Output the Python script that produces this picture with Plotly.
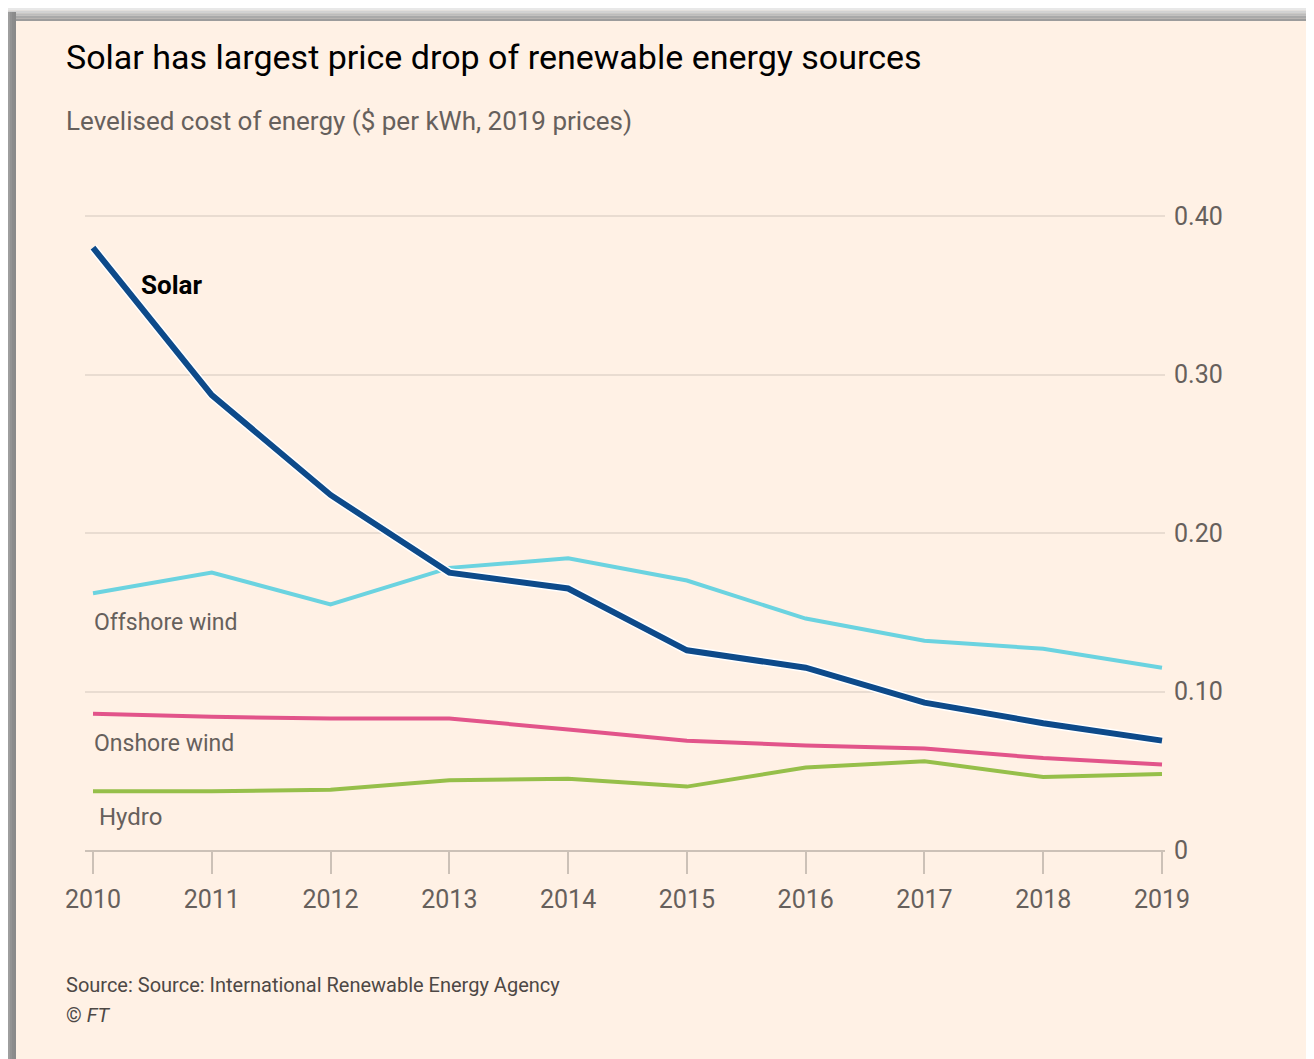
import plotly.graph_objects as go

years = [2010, 2011, 2012, 2013, 2014, 2015, 2016, 2017, 2018, 2019]
solar = [0.380, 0.287, 0.224, 0.175, 0.165, 0.126, 0.115, 0.093, 0.080, 0.069]
offshore = [0.162, 0.175, 0.155, 0.178, 0.184, 0.170, 0.146, 0.132, 0.127, 0.115]
onshore = [0.086, 0.084, 0.083, 0.083, 0.076, 0.069, 0.066, 0.064, 0.058, 0.054]
hydro = [0.037, 0.037, 0.038, 0.044, 0.045, 0.040, 0.052, 0.056, 0.046, 0.048]
ytick_vals = [0, 0.1, 0.2, 0.3, 0.4]
ytick_text = ["0", "0.10", "0.20", "0.30", "0.40"]

OFF = 8  # page body margin
W, H = 1314 - OFF, 1059 - OFF
# plot area in screen coordinates
SL, SR, ST, SB = 85, 1165, 200, 850
L, R, T, B = SL - OFF, SR - OFF, ST - OFF, SB - OFF
FONT = "Roboto, Liberation Sans, Arial, sans-serif"


def px(x):
    return (x - SL) / (SR - SL)


def py(y):
    return (SB - y) / (SB - ST)


fig = go.Figure()
fig.add_trace(go.Scatter(x=years, y=hydro, mode="lines", line=dict(color="#96BF4A", width=4), hoverinfo="skip"))
fig.add_trace(go.Scatter(x=years, y=onshore, mode="lines", line=dict(color="#E2548A", width=4), hoverinfo="skip"))
fig.add_trace(go.Scatter(x=years, y=offshore, mode="lines", line=dict(color="#6BD3E0", width=4), hoverinfo="skip"))
fig.add_trace(go.Scatter(x=years, y=solar, mode="lines", line=dict(color="#FFFFFF", width=9), hoverinfo="skip"))
fig.add_trace(go.Scatter(x=years, y=solar, mode="lines", line=dict(color="#0D4A8A", width=6), hoverinfo="skip"))

shapes = []
# top shadow band (screen y 8..21)
tops = ["#E8E8E8", "#D2D2D2", "#BCBCBC", "#A9A9A9", "#9C9C9C"]
for i, c in enumerate(tops):
    y0 = OFF + i * 2.6
    shapes.append(dict(type="rect", xref="paper", yref="paper", x0=px(0), x1=px(1400),
                       y0=py(y0 + 2.6), y1=py(y0), fillcolor=c, line=dict(width=0), layer="above"))
# left shadow strip (screen x 8..16)
lefts = ["#9E9E9E", "#939393", "#8C8C8C", "#8A8A8A"]
for i, c in enumerate(lefts):
    x0 = OFF + i * 2
    shapes.append(dict(type="rect", xref="paper", yref="paper", x0=px(x0), x1=px(x0 + 2),
                       y0=py(1100), y1=py(OFF + 4), fillcolor=c, line=dict(width=0), layer="above"))

annotations = [
    dict(text="Solar has largest price drop of renewable energy sources", x=px(64), y=py(57),
         xanchor="left", yanchor="middle", font=dict(size=34, color="#000000", family=FONT)),
    dict(text="Levelised cost of energy ($ per kWh, 2019 prices)", x=px(64), y=py(121),
         xanchor="left", yanchor="middle", font=dict(size=26, color="#66605C", family=FONT)),
    dict(text="<b>Solar</b>", x=px(139), y=py(285), xanchor="left", yanchor="middle",
         font=dict(size=26, color="#000000", family=FONT)),
    dict(text="Offshore wind", x=px(92), y=py(622), xanchor="left", yanchor="middle",
         font=dict(size=23, color="#66605C", family=FONT)),
    dict(text="Onshore wind", x=px(92), y=py(743), xanchor="left", yanchor="middle",
         font=dict(size=23, color="#66605C", family=FONT)),
    dict(text="Hydro", x=px(97), y=py(817), xanchor="left", yanchor="middle",
         font=dict(size=24, color="#66605C", family=FONT)),
    dict(text="Source: Source: International Renewable Energy Agency", x=px(64), y=py(985),
         xanchor="left", yanchor="middle", font=dict(size=20, color="#4D4845", family=FONT)),
    dict(text="© <i>FT</i>", x=px(64), y=py(1015),
         xanchor="left", yanchor="middle", font=dict(size=20, color="#4D4845", family=FONT)),
]
for a in annotations:
    a.update(xref="paper", yref="paper", showarrow=False)

x0v = 2010 - (93 - SL) / 118.8
x1v = 2019 + (SR - 1162) / 118.8

fig.update_layout(
    width=W, height=H,
    margin=dict(l=L, r=W - R, t=T, b=H - B, pad=0),
    paper_bgcolor="#FFF1E5", plot_bgcolor="#FFF1E5",
    showlegend=False,
    shapes=shapes, annotations=annotations,
    xaxis=dict(range=[x0v, x1v], tickvals=years, ticktext=[str(y) for y in years],
               showgrid=False, zeroline=False, showline=True, linecolor="#CCC1B7", linewidth=2,
               ticks="outside", ticklen=22, tickcolor="#CCC1B7", tickwidth=2, ticklabelstandoff=4,
               tickfont=dict(size=25, color="#66605C", family=FONT), fixedrange=True),
    yaxis=dict(range=[0, (SB - ST) / 1585], tickvals=ytick_vals, ticktext=ytick_text, side="right",
               showgrid=True, gridcolor="#E9DCD1", gridwidth=2, zeroline=False, showline=False,
               ticks="", ticklabelstandoff=8,
               tickfont=dict(size=25, color="#66605C", family=FONT), fixedrange=True),
)

fig.write_html("out.html")
